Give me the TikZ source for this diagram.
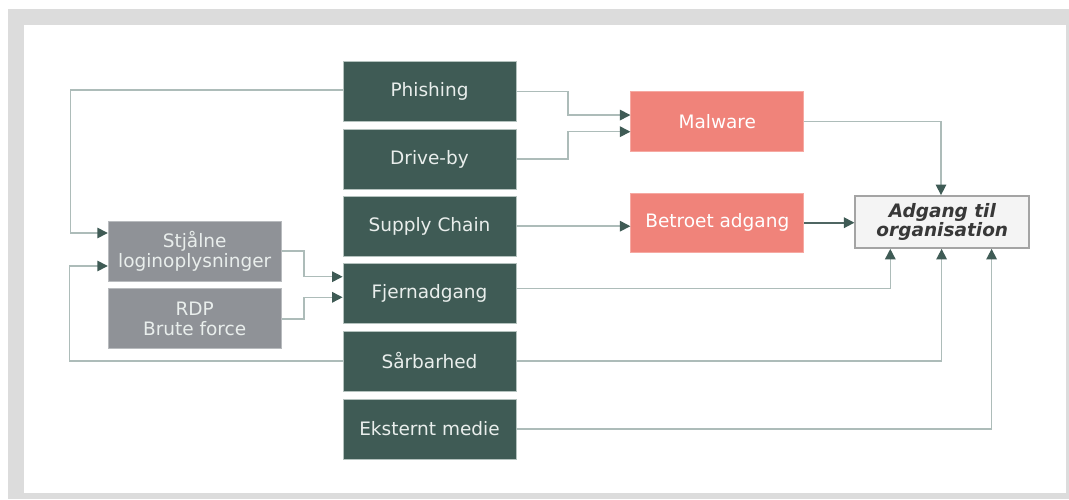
\documentclass[tikz,border=0pt]{standalone}
\usepackage{fontspec}
\setmainfont{DejaVu Sans}
\usetikzlibrary{arrows.meta,calc}

\definecolor{framegray}{HTML}{DCDCDC}
\definecolor{vectorgreen}{HTML}{3F5B55}
\definecolor{vectoredge}{HTML}{B4C2BE}
\definecolor{credgray}{HTML}{8F9297}
\definecolor{credgrayedge}{HTML}{B8BBBE}
\definecolor{salmon}{HTML}{F0837A}
\definecolor{salmonedge}{HTML}{F6A9A2}
\definecolor{goalfill}{HTML}{F4F4F4}
\definecolor{goaledge}{HTML}{A4A4A4}
\definecolor{goaltext}{HTML}{383838}
\definecolor{linkline}{HTML}{ADBCB9}
\definecolor{strongline}{HTML}{4F6662}
\definecolor{tipgreen}{HTML}{3F5B55}
\definecolor{lighttext}{HTML}{E9EEEC}

\tikzset{
  basebox/.style={rectangle, inner sep=0pt, align=center, line width=0.8pt,
    font=\fontsize{18.5}{20}\selectfont},
  vectorbox/.style={basebox, fill=vectorgreen, draw=vectoredge, text=lighttext,
    minimum width=173pt, minimum height=60pt},
  credbox/.style={basebox, fill=credgray, draw=credgrayedge, text=lighttext,
    minimum width=173pt, minimum height=60pt},
  effectbox/.style={basebox, fill=salmon, draw=salmonedge, text=white,
    minimum width=173pt, minimum height=59.5pt},
  goalbox/.style={basebox, fill=goalfill, draw=goaledge, line width=1.8pt,
    text=goaltext, minimum width=174pt, minimum height=52pt,
    font=\fontsize{18.5}{18.5}\selectfont\bfseries\itshape},
  conn/.style={draw=linkline, line width=1.5pt,
    -{Triangle[length=10.5pt, width=10.5pt, color=tipgreen]}},
  strongconn/.style={conn, draw=strongline, line width=1.8pt},
}

\begin{document}
\begin{tikzpicture}[x=1pt, y=-1pt]
  % frame and canvas
  \fill[white] (0,0) rectangle (1069,499);
  \fill[framegray] (8,9) rectangle (1069,499);
  \fill[white] (24,25) rectangle (1066,493);
  \useasboundingbox (0,0) rectangle (1069,499);

  % attack vectors
  \node[vectorbox] (phish)  at (429.5, 91.4) {Phishing};
  \node[vectorbox] (drive)  at (429.5,159.0) {Drive-by};
  \node[vectorbox] (supply) at (429.5,226.2) {Supply Chain};
  \node[vectorbox] (fjern)  at (429.5,293.5) {Fjernadgang};
  \node[vectorbox] (saar)   at (429.5,361.0) {Sårbarhed};
  \node[vectorbox] (ekst)   at (429.5,429.0) {Eksternt medie};

  % credential sources
  \node[credbox] (stjal) at (194.7,251.0) {Stjålne\\loginoplysninger};
  \node[credbox] (rdp)   at (194.7,318.8) {RDP\\Brute force};

  % intermediate effects
  \node[effectbox] (malware) at (717.3,121.4) {Malware};
  \node[effectbox] (betroet) at (717.3,222.7) {Betroet adgang};

  % goal
  \node[goalbox] (adgang) at (942.3,222.0) {Adgang til\\organisation};

  % vectors to effects
  \draw[conn] (phish.east) -- ++(51.5,0) |- ($(malware.west)+(0,-6.35)$);
  \draw[conn] (drive.east) -- ++(51.5,0) |- ($(malware.west)+(0,10.3)$);
  \draw[conn] (supply.east) -- (betroet.west |- supply.east);

  % effects to goal
  \draw[conn] (malware.east) -| ($(adgang.north)+(-1.3,0)$);
  \draw[strongconn] (betroet.east) -- (adgang.west |- betroet.east);

  % direct routes to goal
  \draw[conn] ($(fjern.east)+(0,-5)$) -| ($(adgang.south)+(-52,0)$);
  \draw[conn] (saar.east) -| ($(adgang.south)+(-0.7,0)$);
  \draw[conn] (ekst.east) -| ($(adgang.south)+(49.3,0)$);

  % feedback into stolen credentials
  \draw[conn] ($(phish.west)+(0,-1.4)$) -- ++(-272,0) |- ($(stjal.west)+(0,-18)$);
  \draw[conn] (saar.west) -- ++(-273,0) |- ($(stjal.west)+(0,15)$);

  % credentials into remote access
  \draw[conn] (stjal.east) -- ++(22.3,0) |- ($(fjern.west)+(0,-16.8)$);
  \draw[conn] (rdp.east) -- ++(22.3,0) |- ($(fjern.west)+(0,3.8)$);
\end{tikzpicture}
\end{document}
